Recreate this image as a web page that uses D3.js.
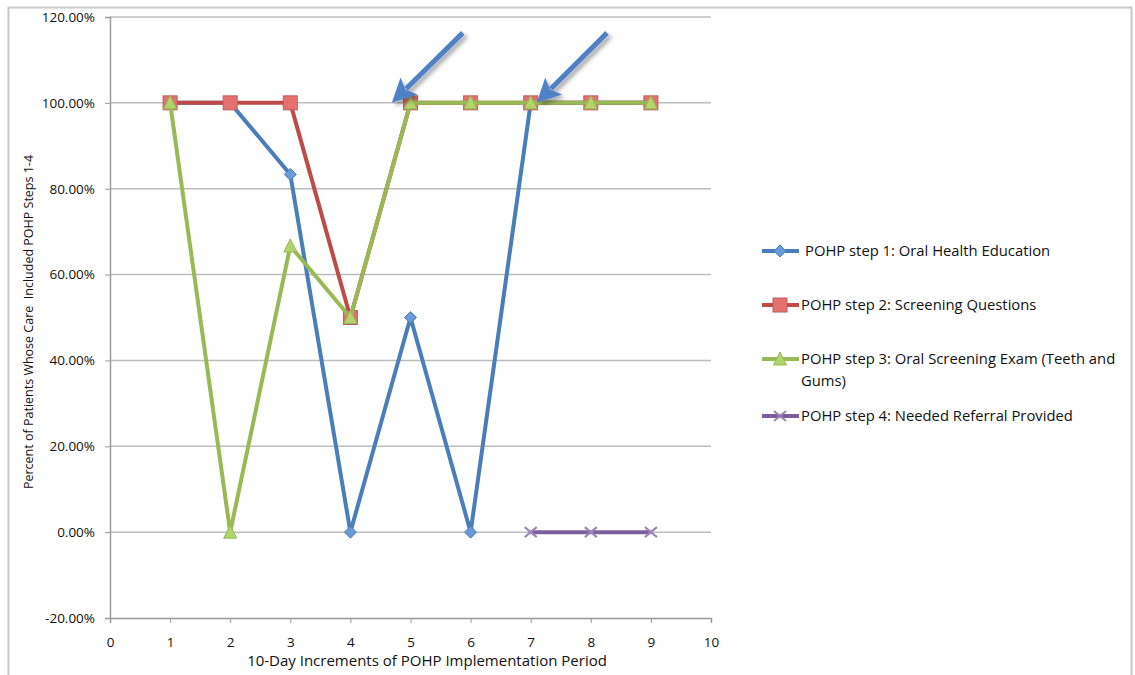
<!DOCTYPE html>
<html><head><meta charset="utf-8">
<script src="https://cdn.jsdelivr.net/npm/d3@7"></script>
<style>body{margin:0;background:#fff;} svg{display:block;}</style>
</head><body>
<svg id="c" width="1135" height="675"></svg>
<script>
const periods = [1,2,3,4,5,6,7,8,9];
const step1 = [100,100,83.33,0,50,0,100,100,100];
const step2 = [100,100,100,50,100,100,100,100,100];
const step3 = [100,0,66.67,50,100,100,100,100,100];
const step4 = [null,null,null,null,null,null,0,0,0];
const seriesNames = ["POHP step 1: Oral Health Education","POHP step 2: Screening Questions","POHP step 3: Oral Screening Exam (Teeth and Gums)","POHP step 4: Needed Referral Provided"];
const seriesColors = ["#4a7ebb","#be4b48","#98b954","#7d5fa0"];
const markerTypes = ["diamond","square","triangle","x"];
const yTicks = [-20,0,20,40,60,80,100,120];
const xTicks = [0,1,2,3,4,5,6,7,8,9,10];
const arrows = [{x1:5.87,y1:116.3,x2:4.69,y2:100},{x1:8.27,y1:116.3,x2:7.1,y2:100}];

const svg = d3.select("#c");
const font = "'Open Sans', 'Liberation Sans', sans-serif";
const ink = "#111";
// outer border
svg.append("rect").attr("x",8.5).attr("y",7.5).attr("width",1123).attr("height",680).attr("fill","none").attr("stroke","#c8c8c8").attr("stroke-width",2);

const x = d3.scaleLinear().domain([0,10]).range([110,711]);
const y = d3.scaleLinear().domain([-20,120]).range([618,17]);

// gridlines
svg.append("g").selectAll("line").data(yTicks.filter(d=>d>-20)).join("line")
  .attr("x1",x(0)).attr("x2",x(10)).attr("y1",d=>y(d)).attr("y2",d=>y(d))
  .attr("stroke","#bdbdbd").attr("stroke-width",1.5);

// y axis
const ya = svg.append("g").attr("transform",`translate(${x(0)},0)`)
  .call(d3.axisLeft(y).tickValues(yTicks).tickFormat(d=>d.toFixed(2)+"%").tickSize(5).tickPadding(10));
ya.select(".domain").attr("stroke","#9a9a9a").attr("stroke-width",1.5);
ya.selectAll(".tick line").attr("stroke","#9a9a9a");
ya.selectAll("text").attr("font-family",font).attr("font-size",13.5).attr("fill",ink);

// x axis
const xa = svg.append("g").attr("transform",`translate(0,${y(-20)})`)
  .call(d3.axisBottom(x).tickValues(xTicks).tickFormat(d3.format("d")).tickSize(5).tickPadding(14));
xa.select(".domain").attr("stroke","#9a9a9a").attr("stroke-width",1.5);
xa.selectAll(".tick line").attr("stroke","#9a9a9a");
xa.selectAll("text").attr("font-family",font).attr("font-size",13.5).attr("fill",ink);

// titles
svg.append("text").attr("x",427).attr("y",666).attr("text-anchor","middle")
  .attr("font-family",font).attr("font-size",15).attr("fill",ink)
  .text("10-Day Increments of POHP Implementation Period");
svg.append("text").attr("transform","translate(33,322) rotate(-90)").attr("text-anchor","middle")
  .attr("font-family",font).attr("font-size",12.5).attr("fill",ink).attr("xml:space","preserve")
  .text("Percent of Patients Whose Care  Included POHP Steps 1-4");

const allSeries = [step1,step2,step3,step4];
const line = d3.line().defined(d=>d.v!=null).x(d=>x(d.p)).y(d=>y(d.v));

function drawMarker(g, type, color, cx, cy){
  if(type==="diamond"){
    g.append("path").attr("d",`M${cx},${cy-6}L${cx+6},${cy}L${cx},${cy+6}L${cx-6},${cy}Z`)
     .attr("fill","#6a9ad8").attr("stroke","#4a7ebb").attr("stroke-width",1);
  } else if(type==="square"){
    g.append("rect").attr("x",cx-7).attr("y",cy-7).attr("width",14).attr("height",14)
     .attr("fill","#e4716e").attr("stroke","#b9605c").attr("stroke-width",1);
  } else if(type==="triangle"){
    g.append("path").attr("d",`M${cx},${cy-7}L${cx+6.5},${cy+6}L${cx-6.5},${cy+6}Z`)
     .attr("fill","#b0d56a").attr("stroke","#98b954").attr("stroke-width",1);
  } else {
    g.append("path").attr("d",`M${cx-6},${cy-5}L${cx+6},${cy+5}M${cx-6},${cy+5}L${cx+6},${cy-5}`)
     .attr("stroke","#9a86b8").attr("stroke-width",2);
  }
}

allSeries.forEach((vals,i)=>{
  const data = periods.map((p,j)=>({p,v:vals[j]}));
  const g = svg.append("g");
  g.append("path").datum(data).attr("d",line).attr("fill","none")
   .attr("stroke",seriesColors[i]).attr("stroke-width",4).attr("stroke-linejoin","round");
  data.filter(d=>d.v!=null).forEach(d=>drawMarker(g,markerTypes[i],seriesColors[i],x(d.p),y(d.v)));
});

// legend
const legY = [251,305,359,416];
seriesNames.forEach((name,i)=>{
  const g = svg.append("g");
  const ly = legY[i];
  g.append("line").attr("x1",762).attr("x2",799).attr("y1",ly).attr("y2",ly)
   .attr("stroke",seriesColors[i]).attr("stroke-width",4);
  drawMarker(g, markerTypes[i], seriesColors[i], 780, ly);
  const t = g.append("text").attr("x",i===0?805:801).attr("y",ly+5)
   .attr("font-family",font).attr("font-size",14.8).attr("fill",ink);
  if(i===2){
    t.append("tspan").attr("x",801).text("POHP step 3: Oral Screening Exam (Teeth and");
    t.append("tspan").attr("x",801).attr("dy",22).text("Gums)");
  } else t.text(name);
});

// annotation arrows
const defs = svg.append("defs");
const f = defs.append("filter").attr("id","sh").attr("x","-20%").attr("y","-20%").attr("width","150%").attr("height","150%");
f.append("feDropShadow").attr("dx",3).attr("dy",3).attr("stdDeviation",2).attr("flood-color","#000").attr("flood-opacity",0.35);
arrows.forEach(a=>{
  const x1=x(a.x1),y1=y(a.y1),x2=x(a.x2),y2=y(a.y2);
  const ang=Math.atan2(y2-y1,x2-x1);
  const hl=24, hw=12;
  const bx=x2-hl*Math.cos(ang), by=y2-hl*Math.sin(ang);
  const px=-Math.sin(ang), py=Math.cos(ang);
  const g=svg.append("g").attr("filter","url(#sh)");
  g.append("line").attr("x1",x1).attr("y1",y1).attr("x2",bx+4*Math.cos(ang)).attr("y2",by+4*Math.sin(ang))
   .attr("stroke","#4f81c7").attr("stroke-width",5);
  g.append("path").attr("d",`M${x2},${y2}L${bx+px*hw},${by+py*hw}L${bx+5*Math.cos(ang)},${by+5*Math.sin(ang)}L${bx-px*hw},${by-py*hw}Z`)
   .attr("fill","#4f81c7");
});
</script>
</body></html>
